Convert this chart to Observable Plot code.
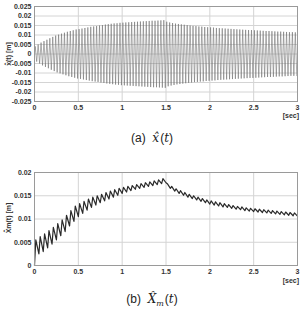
<!DOCTYPE html>
<html><head><meta charset="utf-8">
<script src="https://cdn.jsdelivr.net/npm/d3@7"></script>
<script src="https://cdn.jsdelivr.net/npm/@observablehq/plot@0.6"></script>
<style>
body{margin:0;background:#fff;}
#wrap{position:relative;width:304px;height:319px;overflow:hidden;font-family:"Liberation Sans",Arial,sans-serif;}
.ylab{position:absolute;transform:translate(-50%,-50%) rotate(-90deg);font:bold 7px "Liberation Sans",Arial,sans-serif;color:#333;white-space:nowrap;}
.sec{position:absolute;font:bold 7px "Liberation Sans",Arial,sans-serif;color:#333;line-height:7px;}
.cap{position:absolute;left:0;width:304px;text-align:center;font:12px "Liberation Sans",Arial,sans-serif;color:#222;}
.cap i{font-family:"DejaVu Serif","Liberation Serif",serif;}
</style></head>
<body><div id="wrap"></div>
<script>
// Top chart: amplitude of x̂(t) at each oscillation cycle (≈30 cycles/s)
const cyclesPerSec = 30;
const ampTop = [0.0040,0.0050,0.0060,0.0068,0.0075,0.0083,0.0090,0.0097,0.0102,0.0107,
0.0112,0.0117,0.0121,0.0125,0.0129,0.0131,0.0134,0.0137,0.0140,0.0143,
0.0145,0.0147,0.0150,0.0152,0.0155,0.0157,0.0159,0.0161,0.0162,0.0164,
0.0165,0.0166,0.0167,0.0168,0.0169,0.0170,0.0171,0.0172,0.0173,0.0174,
0.0175,0.0175,0.0176,0.0177,0.0178,0.0170,0.0166,0.0163,0.0160,0.0158,
0.0156,0.0154,0.0152,0.0150,0.0148,0.0147,0.0145,0.0144,0.0142,0.0141,
0.0140,0.0139,0.0137,0.0136,0.0135,0.0134,0.0133,0.0132,0.0131,0.0130,
0.0129,0.0128,0.0127,0.0126,0.0126,0.0125,0.0124,0.0123,0.0122,0.0121,
0.0121,0.0120,0.0119,0.0118,0.0118,0.0117,0.0116,0.0115,0.0115,0.0114];

// Bottom chart: X̂m(t) ripple, high and low value of each tooth (≈20 teeth/s)
const teethPerSec = 20;
const xmHigh = [0.0055,0.0062,0.0068,0.0075,0.0082,0.0090,0.0098,0.0108,0.0118,0.0128,
0.0133,0.0138,0.0143,0.0147,0.0150,0.0153,0.0157,0.0160,0.0163,0.0166,
0.0168,0.0170,0.0172,0.0174,0.0176,0.0178,0.0180,0.0182,0.0184,0.0187,
0.0176,0.0170,0.0165,0.0161,0.0157,0.0153,0.0150,0.0147,0.0144,0.0141,
0.0139,0.0137,0.0135,0.0133,0.0131,0.0129,0.0127,0.0126,0.0124,0.0123,
0.0122,0.0121,0.0120,0.0119,0.0118,0.0117,0.0116,0.0115,0.0114,0.0113];
const xmLow = [0.0025,0.0030,0.0038,0.0046,0.0055,0.0064,0.0073,0.0085,0.0095,0.0105,
0.0112,0.0119,0.0125,0.0130,0.0135,0.0139,0.0143,0.0147,0.0151,0.0155,
0.0158,0.0161,0.0164,0.0166,0.0168,0.0170,0.0172,0.0174,0.0176,0.0178,
0.0166,0.0160,0.0155,0.0151,0.0147,0.0144,0.0141,0.0138,0.0135,0.0132,
0.0130,0.0128,0.0126,0.0125,0.0123,0.0121,0.0120,0.0118,0.0117,0.0116,
0.0115,0.0114,0.0113,0.0112,0.0111,0.0110,0.0109,0.0108,0.0107,0.0106];

const xTicks = [0,0.5,1,1.5,2,2.5,3];
const yTicksTop = [-0.025,-0.02,-0.015,-0.01,-0.005,0,0.005,0.01,0.015,0.02,0.025];
const yTicksBot = [0,0.005,0.01,0.015,0.02];

// build point tables
const topData = [{t:0,v:0}];
ampTop.forEach((a,k)=>{
  topData.push({t:(k+0.25)/cyclesPerSec, v:a});
  topData.push({t:(k+0.75)/cyclesPerSec, v:-a});
});
const botData = [{t:0,v:0}];
xmHigh.forEach((h,k)=>{
  botData.push({t:(k+0.3)/teethPerSec, v:h});
  botData.push({t:(k+1)/teethPerSec, v:xmLow[k]});
});

const fmt = d => String(+d.toFixed(3));
const common = {
  width:304, marginLeft:34, marginRight:7,
  style:{fontFamily:'"Liberation Sans",Arial,sans-serif',fontSize:"7px",fontWeight:"bold",color:"#333",background:"transparent"}
};

const chartA = Plot.plot({
  ...common, height:124, marginTop:6, marginBottom:23,
  x:{domain:[0,3], ticks:xTicks, tickFormat:fmt, tickSize:0, tickPadding:4, label:null},
  y:{domain:[-0.025,0.025], ticks:yTicksTop, tickFormat:fmt, tickSize:0, tickPadding:3, label:null},
  marks:[
    Plot.gridX(xTicks,{stroke:"#d4d4d4",strokeOpacity:1}),
    Plot.gridY(yTicksTop,{stroke:"#d4d4d4",strokeOpacity:1}),
    Plot.line(topData,{x:"t",y:"v",stroke:"#6a6a6a",strokeWidth:0.55}),
    Plot.frame({stroke:"#9a9a9a"})
  ]
});
chartA.style.position="absolute"; chartA.style.left="0px"; chartA.style.top="0px";

const chartB = Plot.plot({
  ...common, height:124, marginTop:7, marginBottom:24,
  x:{domain:[0,3], ticks:xTicks, tickFormat:fmt, tickSize:0, tickPadding:4, label:null},
  y:{domain:[0,0.02], ticks:yTicksBot, tickFormat:fmt, tickSize:0, tickPadding:3, label:null},
  marks:[
    Plot.gridX(xTicks,{stroke:"#d4d4d4",strokeOpacity:1}),
    Plot.gridY(yTicksBot,{stroke:"#d4d4d4",strokeOpacity:1}),
    Plot.line(botData,{x:"t",y:"v",stroke:"#2a2a2a",strokeWidth:1.2}),
    Plot.frame({stroke:"#9a9a9a"})
  ]
});
chartB.style.position="absolute"; chartB.style.left="0px"; chartB.style.top="165px";

const wrap = document.getElementById("wrap");
wrap.appendChild(chartA);
wrap.appendChild(chartB);
wrap.insertAdjacentHTML("beforeend", `
<div class="ylab" style="left:8px;top:54px;">x&#770;(t) [m]</div>
<div class="sec" style="right:5px;top:112px;">[sec]</div>
<div class="cap" style="top:131px;">(a)&nbsp; <i>x&#770;</i>&#8202;(<i>t</i>)</div>
<div class="ylab" style="left:8px;top:218px;">X&#770;m(t) [m]</div>
<div class="sec" style="right:5px;top:277px;">[sec]</div>
<div class="cap" style="top:292px;">(b)&nbsp; <i>X&#770;<sub style="font-size:8px">m</sub></i>&#8202;(<i>t</i>)</div>
`);
</script></body></html>
